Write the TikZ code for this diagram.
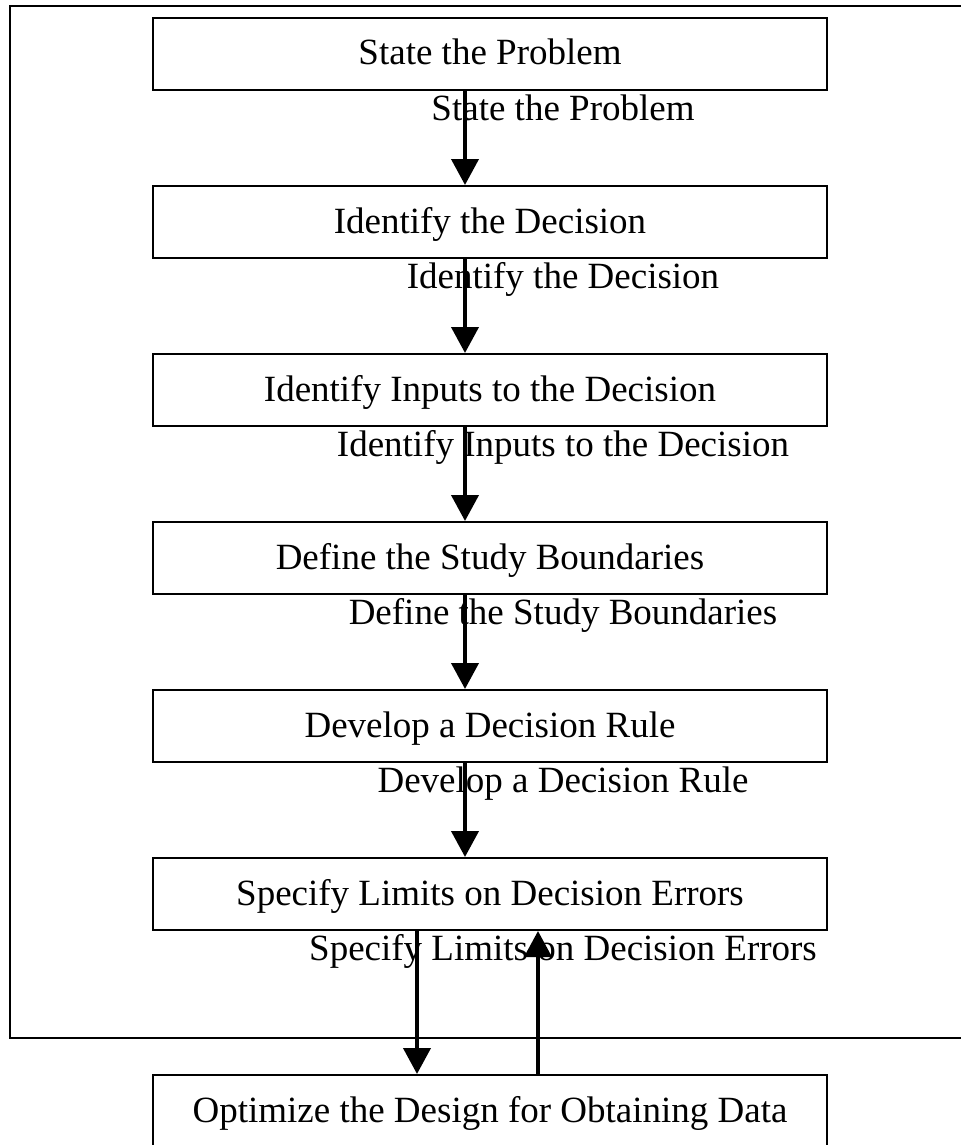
\documentclass[tikz,border=0pt]{standalone}
\usepackage{fontspec}
\setmainfont{Liberation Serif}
\usetikzlibrary{arrows.meta}

\begin{document}
\begin{tikzpicture}[x=0.5pt,y=-0.5pt,>={Triangle[width=13.5pt,length=13pt]},
      stage node/.style={draw,line width=1pt,minimum width=337pt,minimum height=36pt,
        inner sep=0pt,text height=12.5pt,text depth=1.5pt,font=\fontsize{18.5}{22}\selectfont},
      label node/.style={anchor=base,inner sep=0pt,font=\fontsize{18.5}{22}\selectfont}]
    \useasboundingbox (0,0) rectangle (961,1145);
    \clip (0,0) rectangle (961,1145);
    % outer frame
    \draw[line width=1pt] (10,6) rectangle (975,1038);
    % steps
    \node[stage node] (S1) at (490,54)   {State the Problem};
    \node[stage node] (S2) at (490,222)  {Identify the Decision};
    \node[stage node] (S3) at (490,390)  {Identify Inputs to the Decision};
    \node[stage node] (S4) at (490,558)  {Define the Study Boundaries};
    \node[stage node] (S5) at (490,726)  {Develop a Decision Rule};
    \node[stage node] (S6) at (490,894)  {Specify Limits on Decision Errors};
    \node[stage node] (S7) at (490,1111) {Optimize the Design for Obtaining Data};
    % labels under the steps
    \node[label node] (L1) at (563,120) {State the Problem};
    \node[label node] (L2) at (563,288) {Identify the Decision};
    \node[label node] (L3) at (563,456) {Identify Inputs to the Decision};
    \node[label node] (L4) at (563,624) {Define the Study Boundaries};
    \node[label node] (L5) at (563,792) {Develop a Decision Rule};
    \node[label node] (L6) at (563,960) {Specify Limits on Decision Errors};
    \path[line width=2pt]
         ([xshift=-12.5pt]S1.south) edge [->] ([xshift=-12.5pt]S2.north)
         ([xshift=-12.5pt]S2.south) edge [->] ([xshift=-12.5pt]S3.north)
         ([xshift=-12.5pt]S3.south) edge [->] ([xshift=-12.5pt]S4.north)
         ([xshift=-12.5pt]S4.south) edge [->] ([xshift=-12.5pt]S5.north)
         ([xshift=-12.5pt]S5.south) edge [->] ([xshift=-12.5pt]S6.north)
         ([xshift=-36.5pt]S6.south) edge [->] ([xshift=-36.5pt]S7.north)
         ([xshift=24pt]S7.north)    edge [->] ([xshift=24pt]S6.south);
\end{tikzpicture}
\end{document}
